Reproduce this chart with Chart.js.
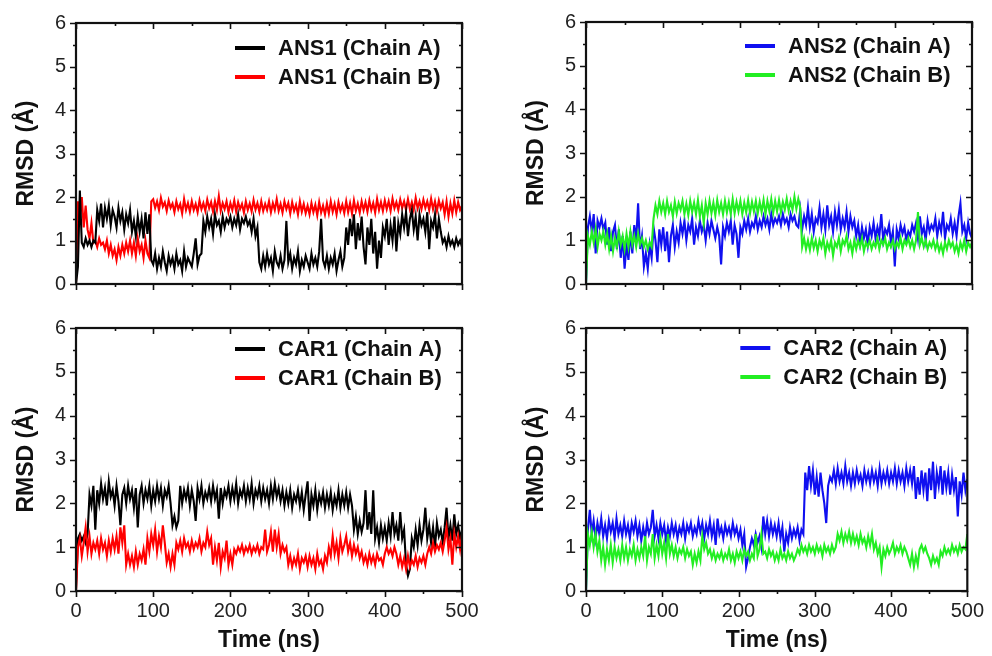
<!DOCTYPE html>
<html>
<head>
<meta charset="utf-8">
<title>RMSD of ANS and CAR complexes</title>
<script src="https://cdn.jsdelivr.net/npm/chart.js@4.4.1/dist/chart.umd.min.js"></script>
<style>
  html, body { margin: 0; padding: 0; background: #ffffff; }
  #fig { position: relative; width: 992px; height: 656px; overflow: hidden; background: #ffffff; }
  #fig canvas { position: absolute; }
</style>
</head>
<body>
<div id="fig">
  <canvas id="pAns1" width="496" height="306" style="left:0px;top:0px;width:496px;height:306px"></canvas>
  <canvas id="pAns2" width="482" height="306" style="left:510px;top:0px;width:482px;height:306px"></canvas>
  <canvas id="pCar1" width="496" height="350" style="left:0px;top:306px;width:496px;height:350px"></canvas>
  <canvas id="pCar2" width="482" height="350" style="left:510px;top:306px;width:482px;height:350px"></canvas>
</div>
<script>
// RMSD traces (Å), one frame every 2.5 ns from 0 to 500 ns
const frameStepNs = 2.5;

const ANS1_A = [
  0, 0.4, 2.15, 0.95, 0.85, 1.05, 0.9, 1.0, 0.85, 1.0,
  0.95, 1.7, 1.45, 1.85, 1.3, 1.75, 1.5, 1.8, 1.35, 1.7,
  1.55, 1.3, 1.75, 1.45, 1.65, 1.25, 1.6, 1.4, 1.7, 1.2,
  1.45, 1.1, 1.55, 1.2, 1.5, 1.05, 1.65, 1.15, 1.6, 0.55,
  0.45, 0.7, 0.35, 0.6, 0.4, 0.75, 0.5, 0.3, 0.65, 0.45,
  0.6, 0.35, 0.7, 0.45, 0.55, 0.3, 0.75, 0.4, 0.6, 0.5,
  0.4, 0.7, 1.05, 0.45, 0.65, 0.7, 1.45, 1.2, 1.55, 1.3,
  1.5, 1.15, 1.6, 1.35, 1.45, 1.2, 1.55, 1.3, 1.5, 1.4,
  1.55, 1.3, 1.5, 1.35, 1.6, 1.25, 1.5, 1.4, 1.55, 1.35,
  1.45, 1.2, 1.5, 1.1, 1.3, 0.5, 0.35, 0.65, 0.4, 0.7,
  0.45, 0.6, 0.3, 0.75, 0.5, 0.4, 0.65, 0.35, 0.55, 1.45,
  0.5, 0.7, 0.35, 0.6, 0.45, 0.75, 0.3, 0.55, 0.4, 0.65,
  0.5, 0.35, 0.7, 0.45, 0.6, 0.4, 0.75, 1.5, 0.55, 0.4,
  0.65, 0.35, 0.6, 0.45, 0.7, 0.3, 0.55, 0.75, 0.4, 0.6,
  1.3, 0.9, 1.5, 1.1, 1.6, 0.8, 1.4, 1.0, 1.55, 0.85,
  0.45, 1.3, 0.9, 1.5, 0.7, 1.2, 0.35, 1.0, 0.6, 1.3,
  1.1, 1.5, 0.9, 1.35, 1.0, 1.55, 0.75, 1.4, 1.15, 1.6,
  1.3, 1.65, 1.1, 1.5, 1.7, 1.25, 1.55, 1.0, 1.6, 1.35,
  1.5, 1.2, 1.65, 0.8, 1.45, 1.3, 1.6, 1.05, 1.5, 1.2,
  0.95, 1.05, 0.85, 1.1, 0.9, 1.0, 0.85, 1.05, 0.9, 1.0,
  0.85
];
const ANS1_B = [
  0, 1.9, 1.5, 2.0, 1.3, 1.8, 1.25, 1.05, 1.4, 0.95,
  1.0, 0.85, 1.05, 0.9, 0.95, 0.8, 1.0, 0.7, 0.9, 0.65,
  0.8, 0.55, 0.85, 0.65, 0.9, 0.7, 0.95, 0.75, 1.0, 0.7,
  0.95, 0.65, 1.05, 0.75, 0.9, 0.6, 1.0, 0.7, 0.6, 1.9,
  1.95, 1.75, 1.9, 1.7, 1.98, 1.78, 1.88, 1.68, 1.92, 1.75,
  1.85, 1.65, 1.9, 1.72, 1.84, 1.62, 1.95, 1.7, 1.86, 1.66,
  1.9, 1.7, 1.84, 1.65, 1.92, 1.72, 1.86, 1.68, 1.94, 1.74,
  1.88, 1.66, 1.9, 1.7, 2.02, 1.68, 1.86, 1.72, 1.9, 1.65,
  1.86, 1.7, 1.92, 1.66, 1.88, 1.72, 1.84, 1.64, 1.9, 1.7,
  1.85, 1.67, 1.93, 1.71, 1.86, 1.66, 1.9, 1.68, 1.84, 1.7,
  1.9, 1.65, 1.86, 1.7, 1.95, 1.68, 1.84, 1.64, 1.9, 1.72,
  1.86, 1.62, 1.88, 1.68, 1.82, 1.6, 1.9, 1.66, 1.84, 1.63,
  1.8, 1.6, 1.86, 1.65, 1.82, 1.58, 1.88, 1.64, 1.8, 1.6,
  1.85, 1.62, 1.9, 1.66, 1.84, 1.6, 1.88, 1.68, 1.82, 1.63,
  1.9, 1.65, 1.86, 1.62, 1.92, 1.68, 1.85, 1.64, 1.9, 1.7,
  1.88, 1.66, 1.92, 1.7, 1.86, 1.64, 1.95, 1.7, 1.88, 1.68,
  1.92, 1.72, 1.9, 1.68, 1.96, 1.74, 1.88, 1.7, 1.94, 1.75,
  1.9, 1.7, 1.95, 1.72, 1.88, 1.7, 1.98, 1.74, 1.9, 1.72,
  1.94, 1.75, 1.9, 1.7, 1.96, 1.72, 1.9, 1.68, 1.92, 1.74,
  1.88, 1.6, 1.9, 1.55, 1.85, 1.62, 1.92, 1.65, 1.88, 1.7,
  1.8
];
const ANS2_A = [
  0, 1.3, 1.55, 1.2, 1.6, 0.7, 1.45, 1.3, 1.5, 1.25,
  1.4, 0.9, 1.3, 0.75, 1.2, 1.35, 0.8, 1.25, 0.6, 1.1,
  0.35, 0.9, 0.55, 1.2, 0.7, 1.35, 1.0, 1.85, 0.8, 1.1,
  0.4, 0.7, 0.35, 0.9, 0.6, 1.3, 1.0, 0.5, 1.25, 0.9,
  1.3, 0.75, 1.2, 0.5, 1.1, 1.35, 0.85, 1.2, 0.95, 1.4,
  1.15, 1.45, 1.0, 1.35, 1.2, 1.5, 0.9, 1.3, 1.1, 1.45,
  1.2, 1.35, 1.0, 1.4, 1.15, 1.45, 1.25, 1.05, 1.3, 1.1,
  0.45, 1.3, 1.1, 1.4, 1.2, 1.45, 0.9, 1.35, 1.15, 0.6,
  1.3, 1.15, 1.45, 1.25, 1.5, 1.2, 1.4, 1.3, 1.55, 1.25,
  1.45, 1.3, 1.55, 1.35, 1.5, 1.25, 1.6, 1.35, 1.5, 1.4,
  1.55, 1.35, 1.6, 1.4, 1.5, 1.3, 1.6, 1.45, 1.55, 1.35,
  1.3, 1.7, 1.25, 1.55, 1.35, 1.75, 1.3, 1.6, 1.2, 1.5,
  1.4, 1.75, 1.3, 1.6, 1.25, 1.8, 1.35, 1.55, 1.2, 1.65,
  1.35, 1.7, 1.25, 1.5, 1.3, 1.65, 1.2, 1.55, 1.3, 1.45,
  1.1, 1.35, 0.95, 1.3, 1.05, 1.25, 0.9, 1.3, 1.1, 1.4,
  1.05, 1.3, 1.1, 1.6, 1.0, 1.25, 1.15, 1.35, 0.95, 1.2,
  0.4, 1.25, 1.05, 1.35, 1.15, 1.3, 1.0, 1.2, 1.1, 1.35,
  1.2, 1.4, 1.05, 1.55, 1.15, 1.3, 1.0, 1.45, 1.2, 1.35,
  1.25, 1.5, 1.1, 1.4, 1.2, 1.65, 1.05, 1.35, 1.25, 1.5,
  1.15, 1.4, 1.1, 1.55, 1.85, 1.2, 1.35, 1.05, 1.4, 1.15,
  1.05
];
const ANS2_B = [
  0, 1.1, 0.9, 1.2, 0.95, 1.25, 0.85, 1.15, 1.0, 1.2,
  0.9, 1.15, 0.8, 1.1, 0.75, 1.05, 0.85, 1.2, 0.9, 1.1,
  0.8, 1.15, 0.85, 1.2, 0.9, 1.1, 0.85, 1.15, 0.9, 1.05,
  0.85, 1.0, 0.8, 0.95, 0.85, 1.5, 1.8, 1.6, 1.9, 1.65,
  1.85, 1.6, 1.9, 1.65, 1.8, 1.55, 1.88, 1.62, 1.85, 1.7,
  1.9, 1.6, 1.84, 1.58, 1.9, 1.65, 1.86, 1.6, 1.92, 1.55,
  1.8, 1.4, 1.85, 1.6, 1.9, 1.62, 1.86, 1.58, 1.92, 1.65,
  1.85, 1.6, 1.9, 1.64, 1.87, 1.6, 1.94, 1.62, 1.88, 1.66,
  1.9, 1.6, 1.86, 1.64, 1.92, 1.62, 1.88, 1.66, 1.9, 1.62,
  1.88, 1.65, 1.92, 1.6, 1.9, 1.67, 1.94, 1.63, 1.9, 1.66,
  1.92, 1.65, 1.88, 1.7, 1.95, 1.68, 1.9, 1.7, 2.0, 1.72,
  1.95, 1.75, 0.85, 1.05, 0.8, 1.0, 0.78, 1.05, 0.82, 1.0,
  0.75, 1.0, 0.85, 1.05, 0.7, 0.95, 0.8, 1.0, 0.65, 0.95,
  0.85, 1.05, 0.75, 1.0, 0.9, 1.1, 0.8, 0.95, 0.7, 1.0,
  0.8, 1.0, 0.85, 1.05, 0.75, 0.95, 0.85, 1.0, 0.8, 0.95,
  0.85, 1.05, 0.8, 1.0, 0.9, 1.05, 0.8, 0.95, 0.85, 1.0,
  0.8, 0.95, 0.85, 1.05, 0.8, 1.0, 0.9, 1.05, 0.85, 1.0,
  0.8, 1.0, 1.65, 0.9, 1.05, 0.85, 1.0, 0.8, 0.95, 0.85,
  1.0, 0.8, 0.95, 0.75, 0.9, 0.7, 0.95, 0.8, 1.0, 0.85,
  0.95, 0.75, 0.9, 0.7, 0.95, 0.8, 1.0, 0.75, 0.95, 0.85,
  0.95
];
const CAR1_A = [
  0, 1.2, 1.3, 1.15, 1.25, 1.1, 1.3, 2.2, 1.95, 2.4,
  1.4, 2.3, 2.0, 2.45, 2.1, 2.35, 1.95, 2.5, 2.15, 2.3,
  1.95, 2.4, 2.05, 1.5, 2.2, 2.35, 2.0, 2.4, 2.1, 2.3,
  1.9, 2.35, 1.45, 2.2, 2.4, 2.0, 2.3, 2.1, 2.4, 1.95,
  2.3, 2.05, 2.4, 2.1, 2.35, 1.95, 2.3, 2.15, 2.4, 2.0,
  1.5, 1.7, 1.45, 1.6, 2.4, 2.0, 2.3, 2.1, 2.35, 1.95,
  2.3, 2.05, 1.6, 2.35, 2.1, 2.4, 2.0, 2.25, 2.1, 2.35,
  2.05, 2.4, 2.1, 2.3, 1.65, 2.35, 2.0, 2.3, 2.15, 2.4,
  2.05, 2.35, 2.1, 2.45, 2.0, 2.3, 2.15, 2.4, 2.05, 2.35,
  2.1, 2.45, 2.0, 2.3, 2.15, 2.4, 2.05, 2.35, 2.1, 2.3,
  2.0, 2.4, 2.1, 2.45, 2.15, 2.35, 2.05, 2.3, 1.95, 2.25,
  2.0, 2.3, 1.9, 2.2, 2.05, 2.3, 1.95, 2.25, 1.85, 2.2,
  2.5, 1.6, 2.2, 1.95, 2.3, 1.85, 2.2, 2.0, 2.25, 1.9,
  2.2, 1.95, 2.25, 1.85, 2.15, 1.95, 2.3, 1.9, 2.2, 1.95,
  2.25, 1.9, 2.2, 1.95, 1.4, 1.7, 1.3, 1.6, 1.35, 1.55,
  2.3, 1.4, 1.8, 1.3, 2.3, 1.2, 1.45, 1.1, 1.5, 1.2,
  1.45, 1.15, 1.55, 1.25, 1.8, 1.3, 1.5, 1.15, 1.8, 1.2,
  1.4, 0.6, 0.35, 0.5, 1.2, 1.0, 1.4, 1.05, 1.5, 1.15,
  1.4, 1.9, 1.2, 1.5, 1.1, 1.45, 1.0, 1.55, 1.25, 1.4,
  1.1, 1.45, 1.9, 1.2, 1.5, 1.15, 1.75, 1.3, 1.5, 1.2,
  1.4
];
const CAR1_B = [
  0, 1.0, 1.2, 0.8, 1.1, 1.45, 0.9, 1.25, 0.85, 1.1,
  0.95, 1.15, 0.85, 1.2, 0.95, 1.1, 0.8, 1.15, 0.9, 1.2,
  0.95, 1.25, 0.85, 1.45, 1.1, 1.5, 0.6, 0.85, 0.6, 0.8,
  0.55, 0.9, 0.6, 0.85, 0.7, 0.95, 0.6, 1.2, 0.9, 1.3,
  1.05, 1.4, 0.9, 1.25, 1.0, 1.5, 1.1, 0.65, 0.85, 0.55,
  0.85, 0.6, 1.1, 0.95, 1.15, 0.9, 1.2, 1.0, 1.1, 0.9,
  1.15, 0.95, 1.1, 1.0, 1.2, 0.9, 1.1, 1.0, 1.35, 1.05,
  1.2, 0.6, 1.0, 0.7, 1.1, 0.55, 0.9, 0.75, 1.15, 0.6,
  0.85, 0.6, 0.95, 0.85, 1.0, 0.9, 1.05, 0.85, 1.0, 0.9,
  1.05, 0.85, 1.0, 0.9, 1.05, 0.85, 1.0, 0.95, 1.4, 0.9,
  1.05, 1.35, 0.9, 1.4, 1.0, 1.3, 0.85, 1.05, 0.9, 1.0,
  0.6, 0.8, 0.55, 0.75, 0.6, 0.85, 0.5, 0.75, 0.65, 0.8,
  0.55, 0.8, 0.6, 0.75, 0.5, 0.85, 0.6, 0.7, 0.5, 0.8,
  0.65, 1.0, 0.8, 1.25, 0.85, 1.1, 0.75, 1.2, 0.9, 1.05,
  1.25, 0.9, 1.1, 0.8, 1.05, 0.85, 1.0, 0.75, 0.9, 0.65,
  0.8, 0.6, 0.85, 0.65, 0.8, 0.6, 0.85, 0.7, 0.75, 0.6,
  0.85, 1.0, 0.85, 0.95, 0.8, 1.0, 0.85, 0.6, 0.8, 0.55,
  0.75, 0.5, 0.8, 0.55, 0.7, 0.6, 0.8, 0.55, 0.75, 0.65,
  0.8, 0.6, 0.85, 1.0, 0.85, 1.1, 0.9, 1.05, 0.95, 1.1,
  0.9, 1.15, 1.45, 0.95, 1.2, 0.6, 1.3, 1.0, 1.25, 0.95,
  1.3
];
const CAR2_A = [
  0, 1.4, 1.85, 1.3, 1.6, 1.2, 1.55, 1.3, 1.65, 1.25,
  1.5, 1.2, 1.6, 1.35, 1.55, 1.2, 1.65, 1.3, 1.5, 1.25,
  1.6, 1.3, 1.5, 1.2, 1.55, 1.35, 1.6, 1.25, 1.5, 1.15,
  1.45, 1.2, 1.55, 1.3, 1.45, 1.85, 1.25, 1.5, 1.2, 1.55,
  1.3, 1.5, 1.15, 1.45, 1.25, 1.55, 1.3, 1.5, 1.2, 1.45,
  1.3, 1.55, 1.2, 1.5, 1.35, 1.55, 1.25, 1.45, 1.3, 1.6,
  1.35, 1.55, 1.2, 1.5, 1.3, 1.6, 1.25, 1.5, 1.05, 1.65,
  1.3, 1.45, 1.2, 1.5, 1.3, 1.45, 1.25, 1.55, 1.3, 1.45,
  1.2, 1.4, 1.05, 1.3, 0.55, 0.75, 1.0, 1.2, 1.05, 1.3,
  1.1, 1.25, 1.0, 1.7, 1.3, 1.6, 1.25, 1.55, 1.3, 1.5,
  1.25, 1.55, 1.2, 1.45, 0.9, 1.3, 1.1, 1.45, 1.2, 1.4,
  1.25, 1.45, 1.15, 1.4, 1.3, 2.7, 2.3, 2.85, 2.4, 2.75,
  2.2, 2.6, 2.15, 2.7, 2.3, 2.0, 1.55, 2.4, 2.6, 2.5,
  2.75, 2.45, 2.8, 2.5, 2.7, 2.45, 2.85, 2.5, 2.7, 2.4,
  2.7, 2.45, 2.75, 2.5, 2.65, 2.4, 2.75, 2.5, 2.7, 2.45,
  2.75, 2.5, 2.7, 2.4, 2.8, 2.45, 2.7, 2.5, 2.75, 2.45,
  2.7, 2.5, 2.8, 2.45, 2.75, 2.5, 2.7, 2.4, 2.8, 2.5,
  2.75, 2.45, 2.85, 2.1, 2.6, 2.2, 2.75, 2.3, 2.7, 2.05,
  2.8, 2.3, 2.95, 2.1, 2.7, 2.4, 2.85, 2.2, 2.75, 2.35,
  2.7, 2.2, 2.65, 2.3, 2.6, 1.7, 2.5, 2.2, 2.7, 2.3,
  2.55
];
const CAR2_B = [
  0, 1.3, 1.05, 1.35, 1.0, 1.3, 0.9, 1.15, 0.7, 1.0,
  0.6, 0.95, 0.7, 1.05, 0.65, 1.0, 0.75, 0.95, 0.7, 1.05,
  0.75, 1.0, 0.7, 0.95, 0.8, 1.05, 0.7, 0.95, 0.75, 1.0,
  0.8, 1.25, 0.7, 1.0, 0.85, 1.3, 0.75, 1.05, 0.8, 1.2,
  0.85, 1.1, 0.75, 1.3, 0.85, 1.05, 0.8, 1.0, 0.75, 0.95,
  0.85, 1.0, 0.75, 0.95, 0.8, 0.9, 0.6, 0.85, 0.65, 0.9,
  0.7, 1.25, 0.95, 1.1, 0.85, 0.95, 0.75, 0.9, 0.7, 0.85,
  0.75, 0.9, 0.7, 0.85, 0.75, 0.95, 0.7, 0.85, 0.65, 0.9,
  0.75, 0.9, 0.7, 0.95, 0.8, 0.9, 0.7, 0.85, 0.75, 1.3,
  0.8, 0.95, 1.3, 0.85, 0.9, 0.75, 0.95, 0.8, 0.9, 0.7,
  0.85, 0.7, 0.95, 0.75, 0.85, 0.7, 0.9, 0.75, 0.85, 0.7,
  0.8, 0.95, 0.85, 1.05, 0.9, 1.0, 0.85, 1.05, 0.9, 1.0,
  0.85, 1.05, 0.9, 1.0, 0.8, 1.05, 0.9, 1.0, 0.85, 1.05,
  0.9, 1.0, 1.3, 1.15, 1.35, 1.1, 1.3, 1.15, 1.35, 1.1,
  1.3, 1.1, 1.25, 1.05, 1.3, 1.1, 1.2, 1.0, 1.25, 1.05,
  1.3, 0.95, 1.1, 0.85, 1.0, 0.55, 0.95, 0.8, 1.0, 0.85,
  0.95, 1.1, 0.85, 1.0, 0.9, 1.05, 0.85, 1.0, 0.9, 0.75,
  0.6, 0.85, 0.55, 0.8, 0.6, 0.95, 1.05, 0.9, 1.0, 0.85,
  0.75, 0.6, 0.8, 0.65, 0.75, 0.6, 0.9, 0.8, 1.0, 0.85,
  0.95, 0.85, 1.05, 0.9, 1.0, 0.85, 1.05, 0.9, 1.0, 0.95,
  1.3
];

// Axis ticks
const timeTicks = [0, 100, 200, 300, 400, 500];
const rmsdTicks = [0, 1, 2, 3, 4, 5, 6];

const FONT = "'Liberation Sans', Arial, Helvetica, sans-serif";
Chart.defaults.font.family = FONT;

const frameTimes = ANS1_A.map((_, i) => i * frameStepNs);
const toPoints = vals => vals.map((v, i) => ({ x: frameTimes[i], y: v }));

// Boxed frame with mirrored major/minor ticks plus an in-plot legend
const frameAndLegend = {
  id: 'frameAndLegend',
  afterDatasetsDraw(chart, args, opts) {
    const { ctx, chartArea: a, scales: { x, y } } = chart;
    ctx.save();
    ctx.strokeStyle = '#111111';
    ctx.lineCap = 'butt';

    ctx.lineWidth = 1.6;
    ctx.beginPath();
    const xStep = timeTicks[1] - timeTicks[0];
    for (let k = 0; k < timeTicks.length; k++) {
      const vals = [timeTicks[k]];
      if (k < timeTicks.length - 1) vals.push(timeTicks[k] + xStep / 2);
      vals.forEach((v, j) => {
        const px = Math.round(x.getPixelForValue(v)) + 0.5;
        const len = j === 0 ? 6 : 3;
        ctx.moveTo(px, a.bottom); ctx.lineTo(px, a.bottom + len);
        ctx.moveTo(px, a.top); ctx.lineTo(px, a.top + len);
      });
    }
    const yStep = rmsdTicks[1] - rmsdTicks[0];
    for (let k = 0; k < rmsdTicks.length; k++) {
      const vals = [rmsdTicks[k]];
      if (k < rmsdTicks.length - 1) vals.push(rmsdTicks[k] + yStep / 2);
      vals.forEach((v, j) => {
        const py = Math.round(y.getPixelForValue(v)) + 0.5;
        const len = j === 0 ? 6 : 3;
        ctx.moveTo(a.left, py); ctx.lineTo(a.left - len, py);
        ctx.moveTo(a.right, py); ctx.lineTo(a.right - len, py);
      });
    }
    ctx.stroke();

    ctx.lineWidth = 2.2;
    ctx.strokeRect(a.left, a.top, a.right - a.left, a.bottom - a.top);

    // legend
    const rowY0 = a.top + opts.legendTop;
    chart.data.datasets.forEach((ds, i) => {
      const ly = rowY0 + i * 29;
      ctx.strokeStyle = ds.borderColor;
      ctx.lineWidth = 4;
      ctx.beginPath();
      ctx.moveTo(a.right - 227, ly);
      ctx.lineTo(a.right - 197, ly);
      ctx.stroke();
      ctx.fillStyle = '#111111';
      ctx.font = 'bold 22px ' + FONT;
      ctx.textAlign = 'left';
      ctx.textBaseline = 'middle';
      ctx.fillText(ds.label, a.right - 184, ly + 1);
    });
    ctx.restore();
  }
};

const panels = [
  { id: 'pAns1', showTime: false, padTop: 23, padRight: 34, axisH: 13, legendTop: 25,
    names: ['ANS1 (Chain A)', 'ANS1 (Chain B)'], series: [ANS1_A, ANS1_B],
    colors: ['#000000', '#ff0000'], order: [0, 1] },
  { id: 'pAns2', showTime: false, padTop: 19, padRight: 20, axisH: 18, legendTop: 24,
    names: ['ANS2 (Chain A)', 'ANS2 (Chain B)'], series: [ANS2_A, ANS2_B],
    colors: ['#1010f0', '#22ee22'], order: [1, 0] },
  { id: 'pCar1', showTime: true, padTop: 16, padRight: 34, axisH: 65, legendTop: 21,
    names: ['CAR1 (Chain A)', 'CAR1 (Chain B)'], series: [CAR1_A, CAR1_B],
    colors: ['#000000', '#ff0000'], order: [1, 0] },
  { id: 'pCar2', showTime: true, padTop: 16, padRight: 20, axisH: 65, legendTop: 20,
    names: ['CAR2 (Chain A)', 'CAR2 (Chain B)'], series: [CAR2_A, CAR2_B],
    colors: ['#1010f0', '#22ee22'], order: [1, 0] }
];

panels.forEach(p => {
  new Chart(document.getElementById(p.id), {
    type: 'line',
    data: {
      datasets: p.series.map((vals, i) => ({
        label: p.names[i],
        data: toPoints(vals),
        borderColor: p.colors[i],
        backgroundColor: p.colors[i],
        borderWidth: 2.1,
        pointRadius: 0,
        tension: 0,
        order: p.order[i]
      }))
    },
    options: {
      responsive: false,
      animation: false,
      devicePixelRatio: 1,
      layout: { padding: { top: p.padTop, right: p.padRight, left: 0, bottom: 0 } },
      plugins: {
        legend: { display: false },
        tooltip: { enabled: false },
        frameAndLegend: { legendTop: p.legendTop }
      },
      scales: {
        x: {
          type: 'linear',
          min: 0, max: 500,
          afterBuildTicks: s => { s.ticks = timeTicks.map(v => ({ value: v })); },
          afterFit: s => { s.height = p.axisH; },
          grid: { display: false, drawTicks: false },
          border: { display: false },
          ticks: { display: p.showTime, color: '#222222', padding: 8, maxRotation: 0,
                   font: { size: 20 } },
          title: { display: p.showTime, text: 'Time (ns)', color: '#111111',
                   font: { size: 23, weight: 'bold' }, padding: { top: 0, bottom: 2 } }
        },
        y: {
          min: 0, max: 6,
          afterBuildTicks: s => { s.ticks = rmsdTicks.map(v => ({ value: v })); },
          afterFit: s => { s.width = 76; },
          grid: { display: false, drawTicks: false },
          border: { display: false },
          ticks: { color: '#222222', padding: 10, font: { size: 20 } },
          title: { display: true, text: 'RMSD (Å)', color: '#111111',
                   font: { size: 23, weight: 'bold' }, padding: { top: 13, bottom: 0 } }
        }
      }
    },
    plugins: [frameAndLegend]
  });
});
</script>
</body>
</html>
